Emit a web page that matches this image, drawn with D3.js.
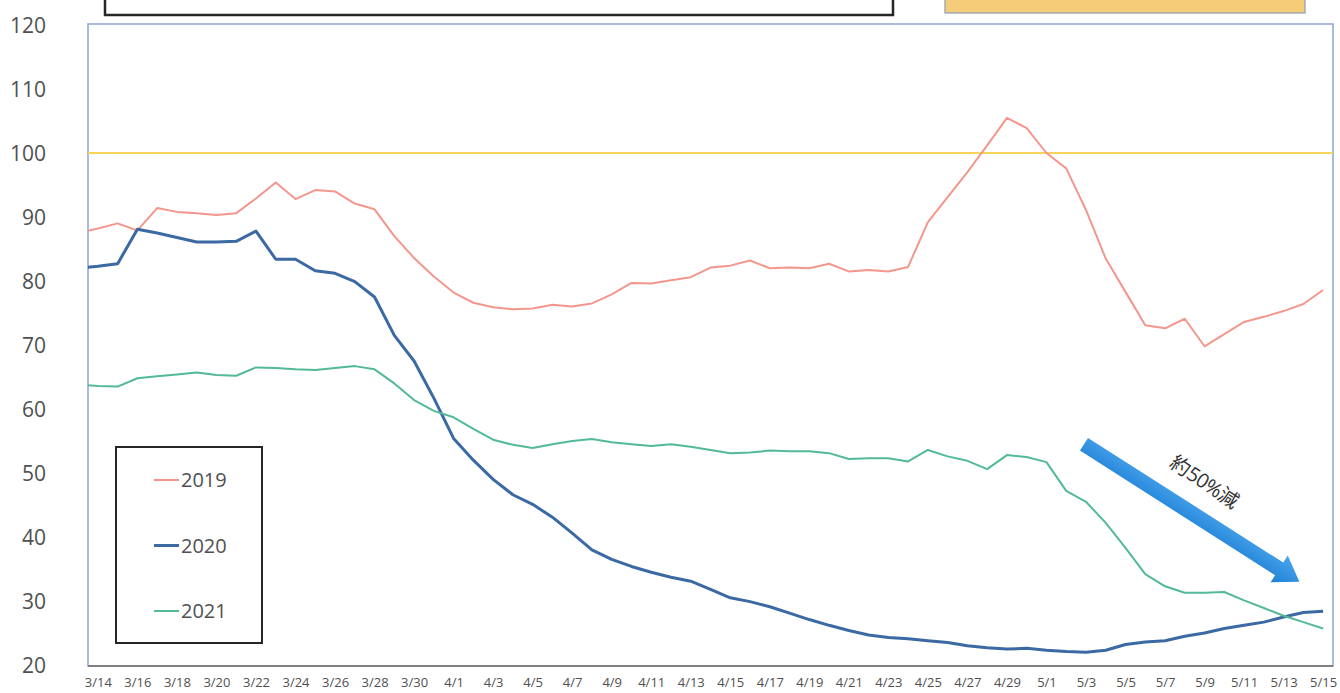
<!DOCTYPE html>
<html>
<head>
<meta charset="utf-8">
<script src="https://cdn.jsdelivr.net/npm/d3@7"></script>
<style>
  body { margin: 0; background: #fff; }
  svg { display: block; }
  text { font-family: "Open Sans", "Noto Sans", sans-serif; fill: #505050; }
</style>
</head>
<body>
<svg width="1340" height="693"></svg>
<script>
// categories: first one (3/13) sits just left of the plot and is clipped
var dates = ["3/13","3/14","3/15","3/16","3/17","3/18","3/19","3/20","3/21","3/22","3/23","3/24","3/25","3/26","3/27","3/28","3/29","3/30","3/31",
  "4/1","4/2","4/3","4/4","4/5","4/6","4/7","4/8","4/9","4/10","4/11","4/12","4/13","4/14","4/15","4/16","4/17","4/18","4/19","4/20",
  "4/21","4/22","4/23","4/24","4/25","4/26","4/27","4/28","4/29","4/30",
  "5/1","5/2","5/3","5/4","5/5","5/6","5/7","5/8","5/9","5/10","5/11","5/12","5/13","5/14","5/15"];

var v2019 = [87.5,88.2,89.0,87.9,91.4,90.8,90.6,90.3,90.6,92.9,95.4,92.8,94.2,94.0,92.1,91.2,87.0,83.6,80.7,78.2,76.6,75.9,
  75.6,75.7,76.3,76.0,76.5,77.9,79.7,79.6,80.1,80.6,82.1,82.4,83.2,82.0,82.1,82.0,82.7,81.5,81.7,81.5,82.2,
  89.2,93.1,97.0,101.2,105.5,103.9,100.0,97.6,91.1,83.5,78.3,73.1,72.6,74.1,69.8,71.7,73.6,74.4,75.3,76.4,78.6];

var v2020 = [82.0,82.3,82.7,88.1,87.5,86.8,86.1,86.1,86.2,87.8,83.4,83.4,81.6,81.2,79.9,77.5,71.5,67.5,61.7,55.4,52.0,49.0,
  46.6,45.1,43.1,40.6,38.0,36.5,35.4,34.5,33.7,33.1,31.8,30.5,29.9,29.1,28.1,27.1,26.2,25.4,24.7,24.3,24.1,
  23.8,23.5,23.0,22.7,22.5,22.6,22.3,22.1,22.0,22.3,23.2,23.6,23.8,24.5,25.0,25.7,26.2,26.7,27.5,28.2,28.4];

var v2021 = [63.8,63.6,63.5,64.8,65.1,65.4,65.7,65.3,65.2,66.5,66.4,66.2,66.1,66.4,66.7,66.2,64.0,61.4,59.7,58.7,56.9,55.2,
  54.4,53.9,54.5,55.0,55.3,54.8,54.5,54.2,54.5,54.1,53.6,53.1,53.2,53.5,53.4,53.4,53.1,52.2,52.3,52.3,51.8,
  53.6,52.6,51.9,50.6,52.8,52.5,51.7,47.2,45.5,42.2,38.3,34.2,32.3,31.3,31.3,31.4,30.1,28.9,27.7,26.7,25.7];

var yTicks = [20,30,40,50,60,70,80,90,100,110,120];
var baseline = 100;

var series = [
  {name: "2019", values: v2019, color: "#f3978d", width: 2},
  {name: "2020", values: v2020, color: "#3b69a3", width: 3},
  {name: "2021", values: v2021, color: "#52b99a", width: 2}
];

// annotation arrow (category index, value)
var arrowFrom = [50.9, 54.5], arrowTo = [61.8, 33.0];
var arrowLabel = {text: ["約", "50%", "減"], at: [57.0, 48.6]};

var svg = d3.select("svg");
var plotLeft = 88, plotRight = 1333, plotTop = 24, plotBottom = 666;

var x = d3.scaleLinear().domain([0.5, dates.length - 0.5]).range([plotLeft, plotRight]);
var y = d3.scaleLinear().domain([20, 120]).range([665, 25]);

// cut-off boxes at the top of the page
svg.append("rect").attr("x", 105).attr("y", -20).attr("width", 788).attr("height", 35)
  .attr("fill", "#fff").attr("stroke", "#262626").attr("stroke-width", 2.5);
svg.append("rect").attr("x", 945).attr("y", -20).attr("width", 360).attr("height", 33)
  .attr("fill", "#f5cd79").attr("stroke", "#8c9cb4").attr("stroke-width", 1.2);

svg.append("defs").append("clipPath").attr("id", "plotclip")
  .append("rect").attr("x", plotLeft).attr("y", 0).attr("width", plotRight - plotLeft).attr("height", 693);

// frame
svg.append("rect").attr("x", plotLeft).attr("y", plotTop)
  .attr("width", plotRight - plotLeft).attr("height", plotBottom - plotTop)
  .attr("fill", "none").attr("stroke", "#8ea4d3").attr("stroke-width", 1.5);

// baseline 100
svg.append("line").attr("x1", plotLeft).attr("x2", plotRight).attr("y1", y(baseline)).attr("y2", y(baseline))
  .attr("stroke", "#f6d55a").attr("stroke-width", 1.8);

// y axis
var yAxis = svg.append("g").attr("transform", "translate(" + plotLeft + ",0)")
  .call(d3.axisLeft(y).tickValues(yTicks).tickSize(0).tickPadding(42));
yAxis.select(".domain").remove();
yAxis.selectAll("text").style("font-size", "21px").attr("fill", "#555").attr("dy", "0.34em");

// x axis
var xTickIdx = d3.range(1, dates.length, 2);
var xAxis = svg.append("g").attr("transform", "translate(0," + plotBottom + ")")
  .call(d3.axisBottom(x).tickValues(xTickIdx).tickFormat(function(i){ return dates[i]; }).tickSize(0).tickPadding(12));
xAxis.select(".domain").attr("stroke", "#808080").attr("stroke-width", 2)
  .attr("d", "M" + plotLeft + ",0H" + plotRight);
xAxis.selectAll("text").style("font-size", "13px").attr("fill", "#404040");

// lines
var line = d3.line().x(function(d, i){ return x(i); }).y(function(d){ return y(d); });
var lines = svg.append("g").attr("clip-path", "url(#plotclip)");
series.forEach(function(s){
  lines.append("path").datum(s.values)
    .attr("d", line)
    .attr("fill", "none")
    .attr("stroke", s.color)
    .attr("stroke-width", s.width)
    .attr("stroke-linejoin", "round");
});

// legend
var legend = svg.append("g");
legend.append("rect").attr("x", 116).attr("y", 447).attr("width", 146).attr("height", 196)
  .attr("fill", "#fff").attr("stroke", "#262626").attr("stroke-width", 2);
series.forEach(function(s, k){
  var ly = 480 + k * 65.5;
  legend.append("line").attr("x1", 154).attr("x2", 179).attr("y1", ly).attr("y2", ly)
    .attr("stroke", s.color).attr("stroke-width", s.width);
  legend.append("text").attr("x", 181).attr("y", ly).attr("dy", "0.36em")
    .style("font-size", "20px").attr("fill", "#404040").text(s.name);
});

// arrow annotation
var grad = svg.select("defs").append("linearGradient").attr("id", "arrowgrad")
  .attr("x1", "0").attr("y1", "0").attr("x2", "0").attr("y2", "1");
grad.append("stop").attr("offset", "0").attr("stop-color", "#4aa5ec");
grad.append("stop").attr("offset", "1").attr("stop-color", "#1e80d6");

var ax0 = x(arrowFrom[0]), ay0 = y(arrowFrom[1]), ax1 = x(arrowTo[0]), ay1 = y(arrowTo[1]);
var len = Math.sqrt((ax1 - ax0) * (ax1 - ax0) + (ay1 - ay0) * (ay1 - ay0));
var ang = Math.atan2(ay1 - ay0, ax1 - ax0) * 180 / Math.PI;
var hw = 7.5, headL = 24, headW = 16;
svg.append("path")
  .attr("transform", "translate(" + ax0 + "," + ay0 + ") rotate(" + ang + ")")
  .attr("d", "M0," + (-hw) + "L" + (len - headL) + "," + (-hw) + "L" + (len - headL) + "," + (-headW) +
    "L" + len + ",0L" + (len - headL) + "," + headW + "L" + (len - headL) + "," + hw + "L0," + hw + "Z")
  .attr("fill", "url(#arrowgrad)");

var lbl = svg.append("text")
  .attr("transform", "translate(" + x(arrowLabel.at[0]) + "," + y(arrowLabel.at[1]) + ") rotate(34)")
  .attr("text-anchor", "middle").attr("dy", "0.35em")
  .style("font-size", "20px").attr("fill", "#333");
lbl.selectAll("tspan").data(arrowLabel.text).enter().append("tspan")
  .style("font-family", function(d, i){ return i === 1 ? "'Open Sans', sans-serif" : "'Noto Sans CJK JP', sans-serif"; })
  .style("letter-spacing", function(d, i){ return i === 1 ? "-0.5px" : null; })
  .attr("fill", "#333")
  .text(function(d){ return d; });
</script>
</body>
</html>
